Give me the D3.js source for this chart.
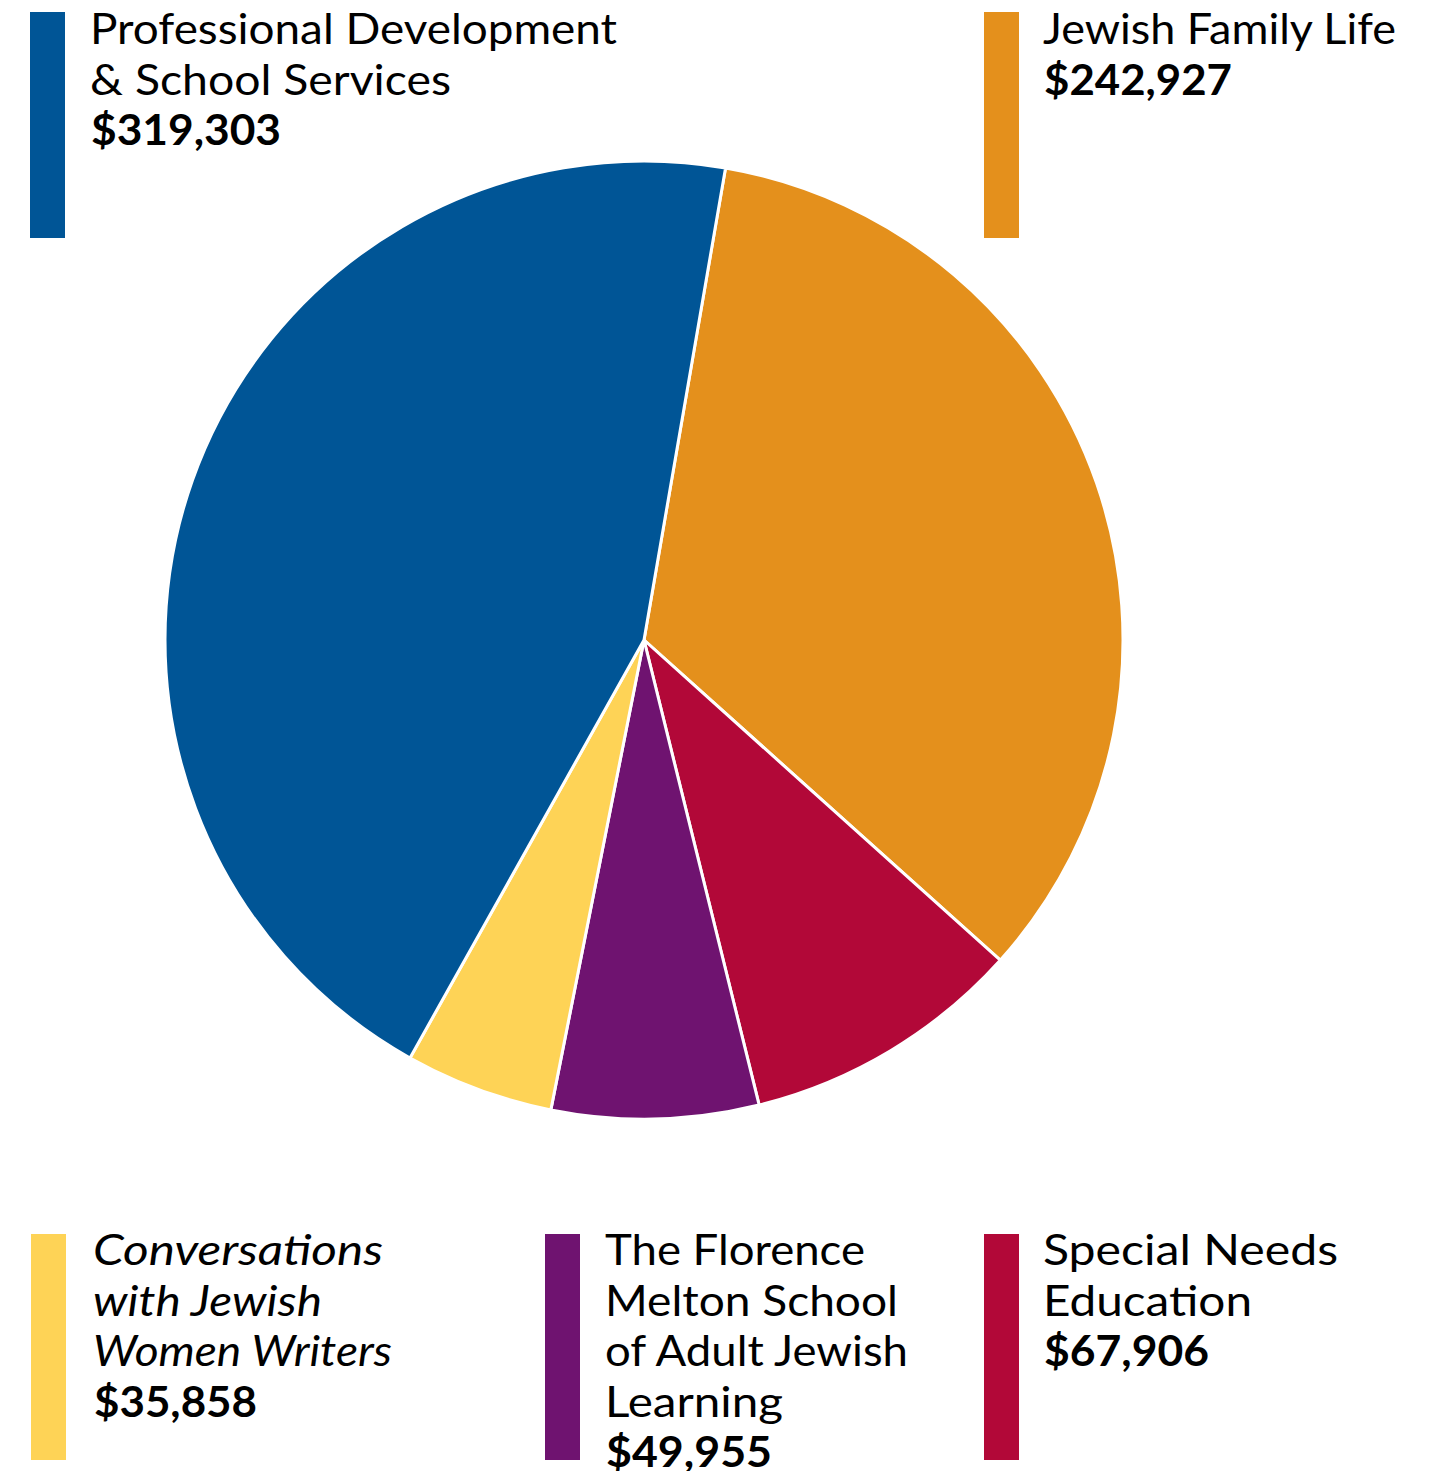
<!DOCTYPE html>
<html>
<head>
<meta charset="utf-8">
<script src="https://cdn.jsdelivr.net/npm/d3@7"></script>
<style>
  html, body { margin: 0; padding: 0; background: #fff; }
  svg { display: block; }
  text { font-family: Lato, "Noto Sans", sans-serif; fill: #000; }
</style>
</head>
<body>
<svg id="chart" width="1438" height="1471"></svg>
<script>
// Data (pie order, clockwise from top)
const categories = ["Jewish Family Life", "Special Needs Education", "The Florence Melton School of Adult Jewish Learning", "Conversations with Jewish Women Writers", "Professional Development & School Services"];
const values = [242927, 67906, 49955, 35858, 319303];
const colors = ["#E4901C", "#B20838", "#6F1370", "#FED356", "#005596"];
const valueLabels = ["$242,927", "$67,906", "$49,955", "$35,858", "$319,303"];
const labelLines = [
  ["Jewish Family Life"],
  ["Special Needs", "Education"],
  ["The Florence", "Melton School", "of Adult Jewish", "Learning"],
  ["Conversations", "with Jewish", "Women Writers"],
  ["Professional Development", "& School Services"]
];
const italic = [false, false, false, true, false];

const svg = d3.select("#chart");
const cx = 644, cy = 640, R = 479;
const start = 9.8 * Math.PI / 180;

const pie = d3.pie().sort(null).value(d => d).startAngle(start).endAngle(start + 2 * Math.PI);
const arc = d3.arc().innerRadius(0).outerRadius(R);

svg.append("g").attr("transform", `translate(${cx},${cy})`)
  .selectAll("path").data(pie(values)).join("path")
  .attr("d", arc)
  .attr("fill", (d, i) => colors[i])
  .attr("stroke", "#fff")
  .attr("stroke-width", 3)
  .attr("stroke-linejoin", "round");

const legendPos = [
  {rx: 984, ry: 12, tx: 1043, by: 44, w: [353], vw: 188},
  {rx: 984, ry: 1234, tx: 1043, by: 1265, w: [295, 209], vw: 165},
  {rx: 545, ry: 1234, tx: 605, by: 1265, w: [260, 293, 303, 178], vw: 166},
  {rx: 31, ry: 1234, tx: 93, by: 1265, w: [290, 229, 299], vw: 163},
  {rx: 30, ry: 12, tx: 90, by: 44, w: [527, 361], vw: 190}
];
const lh = 50.5;

legendPos.forEach((p, i) => {
  const g = svg.append("g");
  g.append("rect").attr("x", p.rx).attr("y", p.ry).attr("width", 35).attr("height", 226).attr("fill", colors[i]);
  labelLines[i].forEach((line, j) => {
    g.append("text")
      .attr("x", p.tx).attr("y", p.by + j * lh)
      .attr("font-size", 42)
      .attr("font-weight", 400)
      .attr("font-style", italic[i] ? "italic" : "normal")
      .attr("textLength", p.w[j]).attr("lengthAdjust", "spacingAndGlyphs")
      .text(line);
  });
  g.append("text")
    .attr("x", p.tx + 1).attr("y", p.by + labelLines[i].length * lh)
    .attr("font-size", 42)
    .attr("font-weight", 700)
    .attr("textLength", p.vw).attr("lengthAdjust", "spacingAndGlyphs")
    .text(valueLabels[i]);
});
</script>
</body>
</html>
